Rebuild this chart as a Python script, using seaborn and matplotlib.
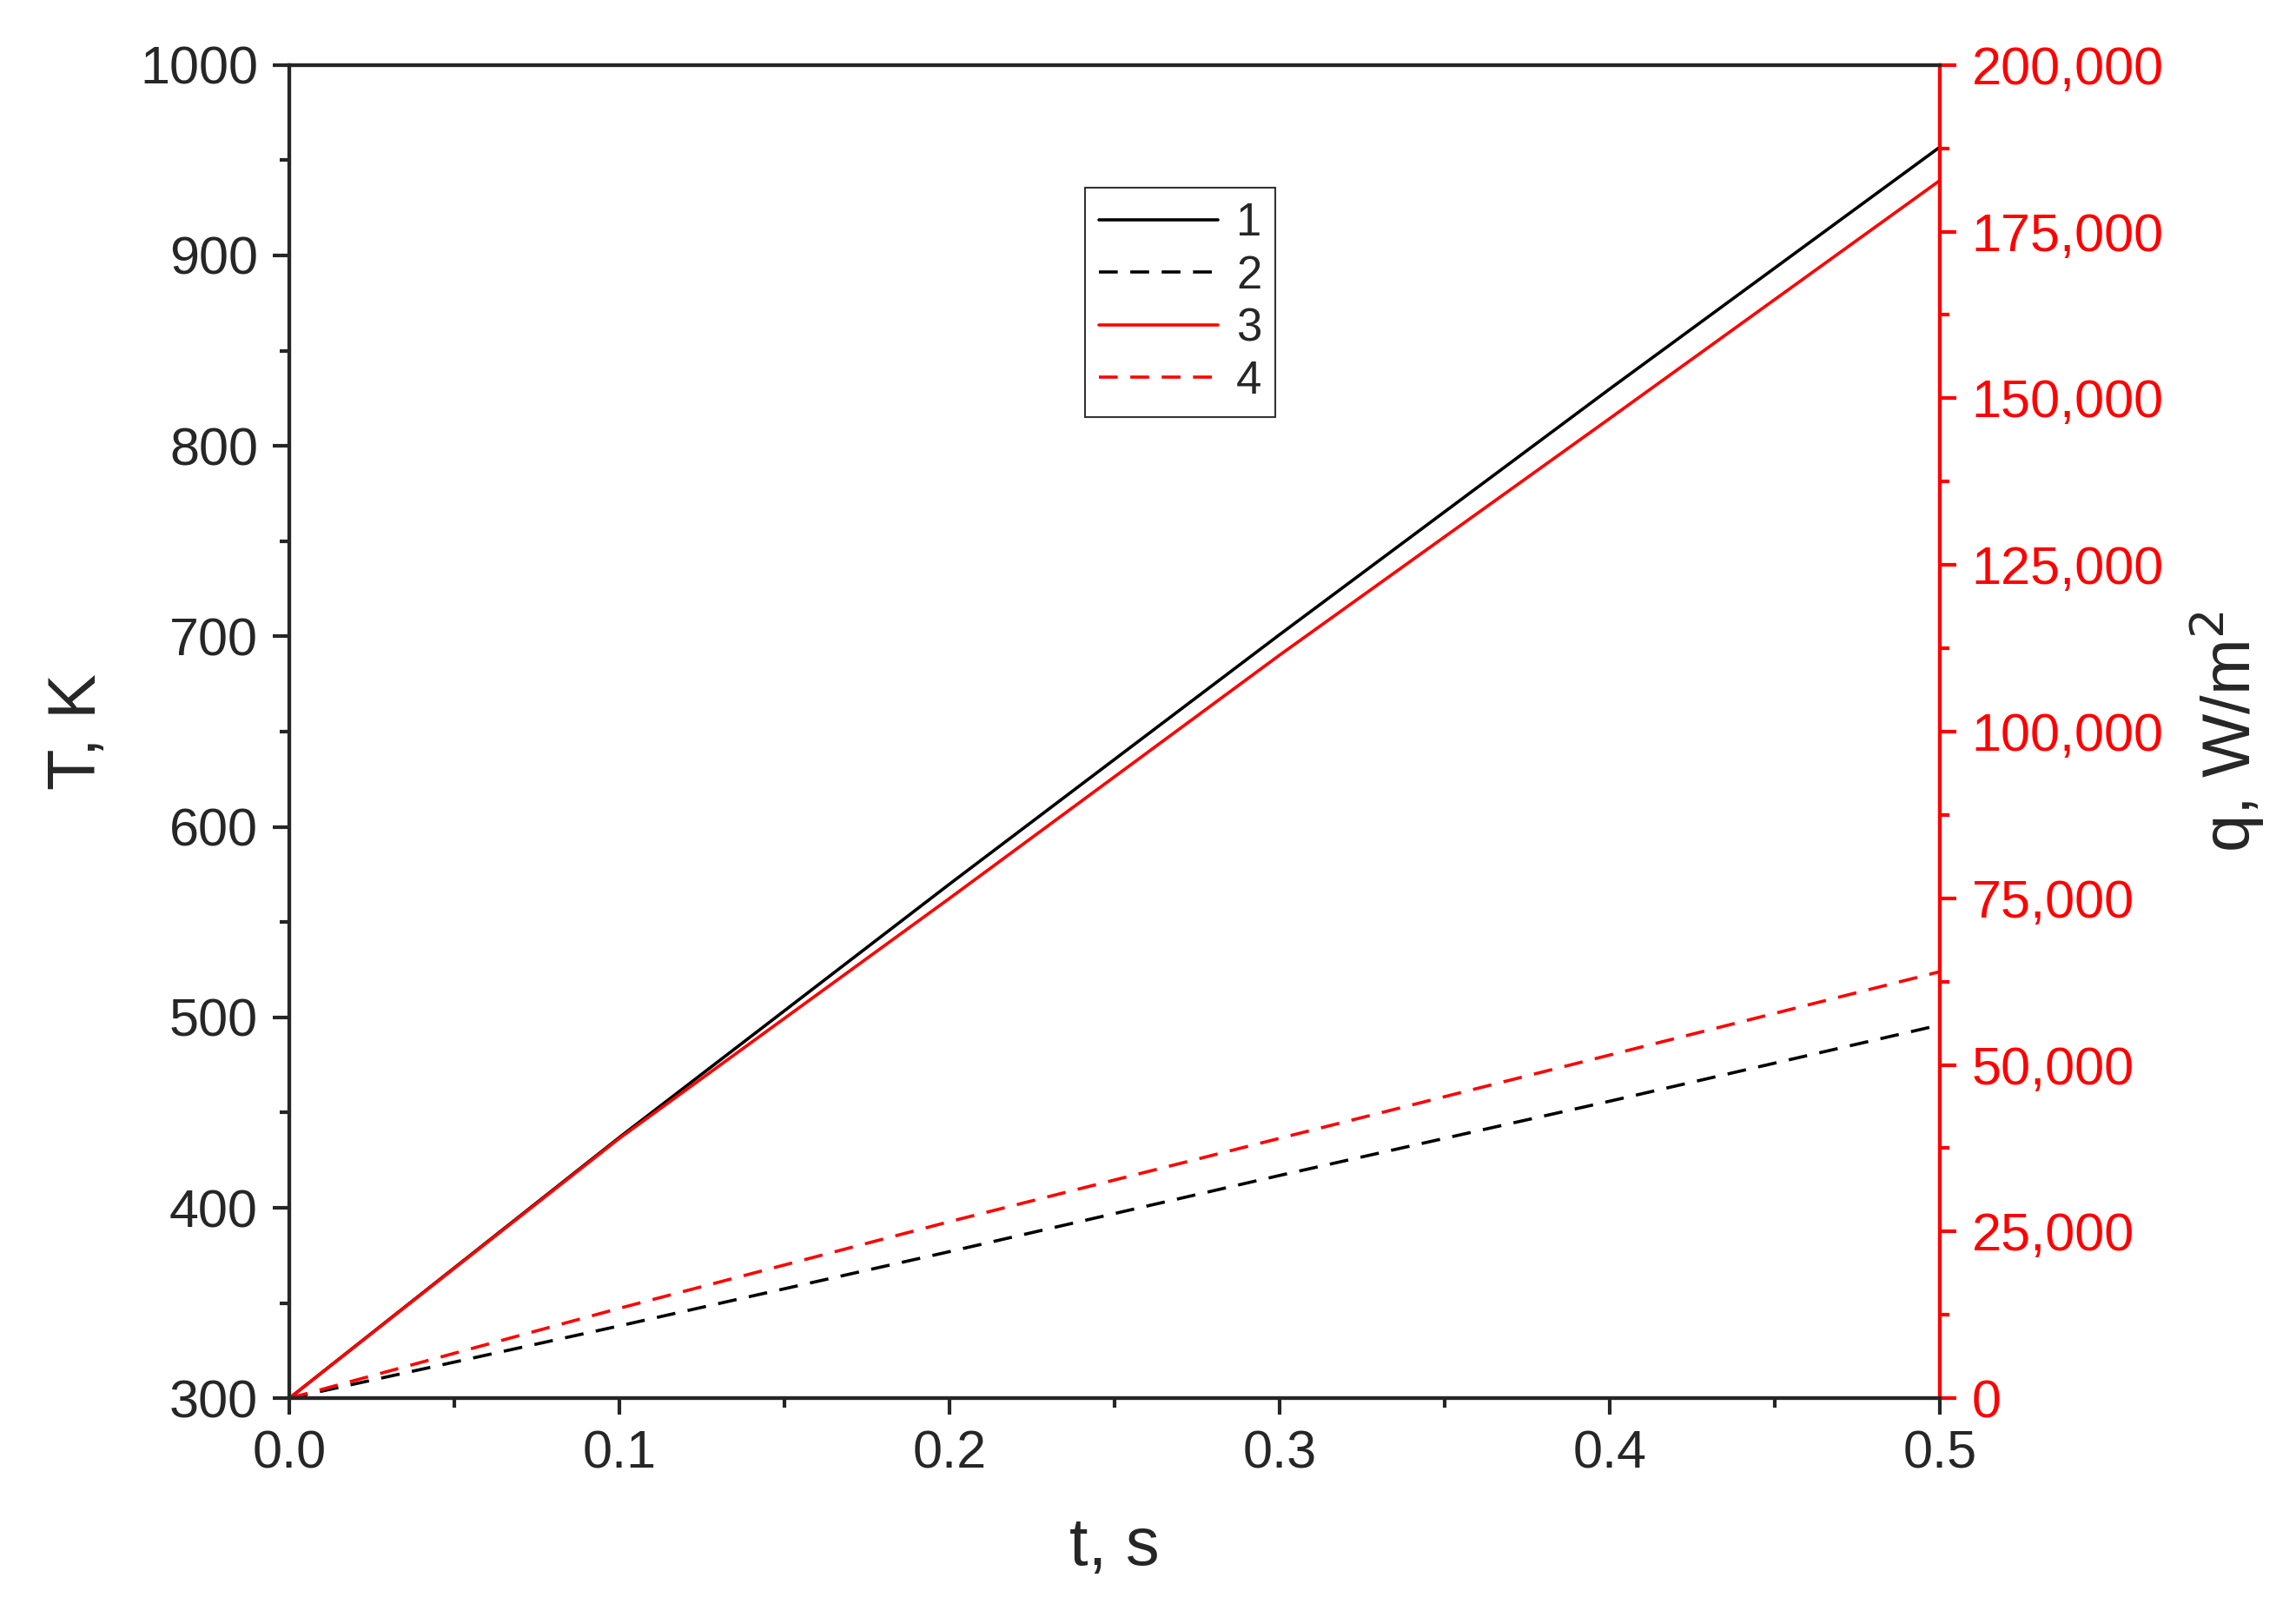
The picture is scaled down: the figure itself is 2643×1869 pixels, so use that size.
import matplotlib
matplotlib.use("Agg")
import matplotlib.pyplot as plt
import seaborn as sns
import pandas as pd
from matplotlib.ticker import MultipleLocator, FuncFormatter

sns.set_style("ticks")
plt.rcParams['font.family'] = ['Liberation Sans', 'DejaVu Sans']

t = [0.0, 0.1, 0.2, 0.3, 0.4, 0.5]
T1 = [300, 437, 570, 701, 830, 957]
T2 = [300, 338, 377, 417, 456, 496]
q3 = [0, 39000, 75000, 111500, 147000, 182700]
q4 = [0, 13500, 26500, 39000, 51500, 64000]

fig = plt.figure(figsize=(26.43, 18.69), dpi=100)
ax = fig.add_axes([0.126, 0.139, 0.719, 0.821])
ax2 = ax.twinx()
df = pd.DataFrame({"t": t, "T1": T1, "T2": T2, "q3": q3, "q4": q4})
lw = 2.6
sns.lineplot(data=df, x="t", y="T1", ax=ax, color="black", lw=lw, label="1", legend=False)
sns.lineplot(data=df, x="t", y="T2", ax=ax, color="black", lw=lw, ls=(0, (6, 4)), label="2", legend=False)
sns.lineplot(data=df, x="t", y="q3", ax=ax2, color="red", lw=lw, label="3", legend=False)
sns.lineplot(data=df, x="t", y="q4", ax=ax2, color="red", lw=lw, ls=(0, (6, 4)), label="4", legend=False)

ax.set_xlim(0, 0.5); ax.set_ylim(300, 1000)
ax2.set_ylim(0, 200000)
ax.xaxis.set_major_locator(MultipleLocator(0.1)); ax.xaxis.set_minor_locator(MultipleLocator(0.05))
ax.yaxis.set_major_locator(MultipleLocator(100)); ax.yaxis.set_minor_locator(MultipleLocator(50))
ax2.yaxis.set_major_locator(MultipleLocator(25000)); ax2.yaxis.set_minor_locator(MultipleLocator(12500))
ax.xaxis.set_major_formatter(FuncFormatter(lambda v, p: f"{v:.1f}"))
ax2.yaxis.set_major_formatter(FuncFormatter(lambda v, p: f"{int(v):,}"))
fs = 44
ax.tick_params(axis='both', which='major', labelsize=fs, length=14, width=3, direction='out', pad=12)
ax.tick_params(axis='both', which='minor', length=8, width=3, direction='out')
ax2.tick_params(axis='y', which='major', labelsize=fs, length=14, width=3, colors='red', pad=12)
ax2.tick_params(axis='y', which='minor', length=8, width=3, colors='red')
for s in ax.spines.values():
    s.set_linewidth(3)
for s in ax2.spines.values():
    s.set_linewidth(3)
ax2.spines['right'].set_color('red')
ax.set_xlabel("t, s", fontsize=56, labelpad=30)
ax.set_ylabel("T, K", fontsize=56, labelpad=25)
ax2.set_ylabel("q, W/m$^2$", fontsize=56, labelpad=20)
ax2.set_xlabel("")

h1, l1 = ax.get_legend_handles_labels()
h2, l2 = ax2.get_legend_handles_labels()
leg = ax2.legend(h1 + h2, l1 + l2, loc='upper left', bbox_to_anchor=(0.468, 0.925),
                 fontsize=38, frameon=True, fancybox=False, handlelength=2.6,
                 borderpad=0.3, labelspacing=0.2, handletextpad=0.4)
leg.get_frame().set_edgecolor('black')
leg.get_frame().set_linewidth(1.5)
fig.savefig("out.png", dpi=100)
